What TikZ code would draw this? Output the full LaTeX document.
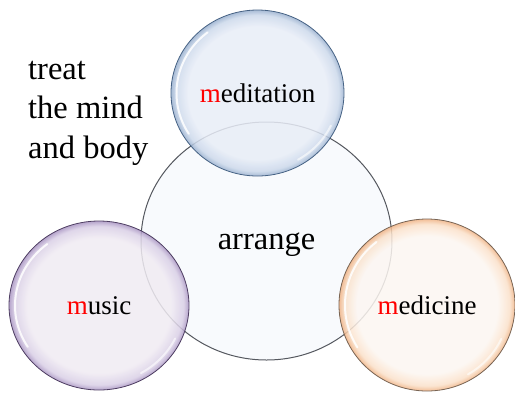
\documentclass[tikz,border=0pt]{standalone}
\usepackage{fontspec}
\setmainfont{Liberation Serif}
\usetikzlibrary{shapes.geometric}
\definecolor{meditline}{RGB}{70,98,132}
\definecolor{musicline}{RGB}{78,62,98}
\definecolor{medicline}{RGB}{120,100,84}
\definecolor{bigline}{RGB}{85,88,95}
\definecolor{bigfill}{RGB}{245,248,252}
\pgfdeclareradialshading{meditglass}{\pgfpoint{0bp}{0bp}}{rgb(0bp)=(0.91,0.93,0.97); rgb(20bp)=(0.91,0.93,0.97); rgb(23.5bp)=(0.80,0.85,0.92); rgb(25bp)=(0.60,0.69,0.81); rgb(50bp)=(0.60,0.69,0.81)}
\pgfdeclareradialshading{musicglass}{\pgfpoint{0bp}{0bp}}{rgb(0bp)=(0.94,0.92,0.95); rgb(20bp)=(0.94,0.92,0.95); rgb(23.5bp)=(0.85,0.81,0.90); rgb(25bp)=(0.66,0.58,0.76); rgb(50bp)=(0.66,0.58,0.76)}
\pgfdeclareradialshading{medicglass}{\pgfpoint{0bp}{0bp}}{rgb(0bp)=(0.99,0.965,0.945); rgb(20bp)=(0.99,0.965,0.945); rgb(23.5bp)=(0.98,0.88,0.79); rgb(25bp)=(0.94,0.70,0.52); rgb(50bp)=(0.94,0.70,0.52)}
\tikzstyle{bubble} = [ellipse, inner sep=0pt, line width=0.8pt,
    fill opacity=0.85, text opacity=1, font=\fontsize{27}{32}\selectfont]
\tikzstyle{bigbubble} = [ellipse, inner sep=0pt, draw=bigline, line width=1pt,
    fill=bigfill, fill opacity=0.75, text opacity=1,
    minimum width=251pt, minimum height=238pt, font=\fontsize{32.5}{39}\selectfont]
\tikzstyle{shine} = [draw=white, line width=2pt, opacity=0.85, line cap=round]
\tikzstyle{caption} = [align=left, inner sep=0pt, font=\fontsize{32.5}{39.5}\selectfont]

\begin{document}
\begin{tikzpicture}[x=1pt, y=-1pt]
    \useasboundingbox (0,0) rectangle (515,392);
    \node [bigbubble, text depth=0pt] (arrange) at (266.5,241) {arrange};
    \node [bubble, shading=meditglass, draw=meditline,
        minimum width=173pt, minimum height=166pt] (medit) at (257.5,93) {\textcolor{red}{m}editation};
    \node [bubble, shading=musicglass, draw=musicline,
        minimum width=180pt, minimum height=169pt] (music) at (99,305.5) {\textcolor{red}{m}usic};
    \node [bubble, shading=medicglass, draw=medicline,
        minimum width=176pt, minimum height=172pt] (medic) at (427,305) {\textcolor{red}{m}edicine};
    % glassy highlights
    \foreach \name/\rx/\ry in {medit/81/77, music/84/78, medic/82/80} {
        \draw [shine] (\name.center) ++(128:\rx pt and \ry pt)
            arc [start angle=128, end angle=212, x radius=\rx pt, y radius=\ry pt];
        \draw [shine, opacity=0.6] (\name.center) ++(-25:\rx pt and \ry pt)
            arc [start angle=-25, end angle=-60, x radius=\rx pt, y radius=\ry pt];
    }
    \node [caption, anchor=base west] (motto) at (28,158) {treat\\the mind\\and body};
\end{tikzpicture}
\end{document}
